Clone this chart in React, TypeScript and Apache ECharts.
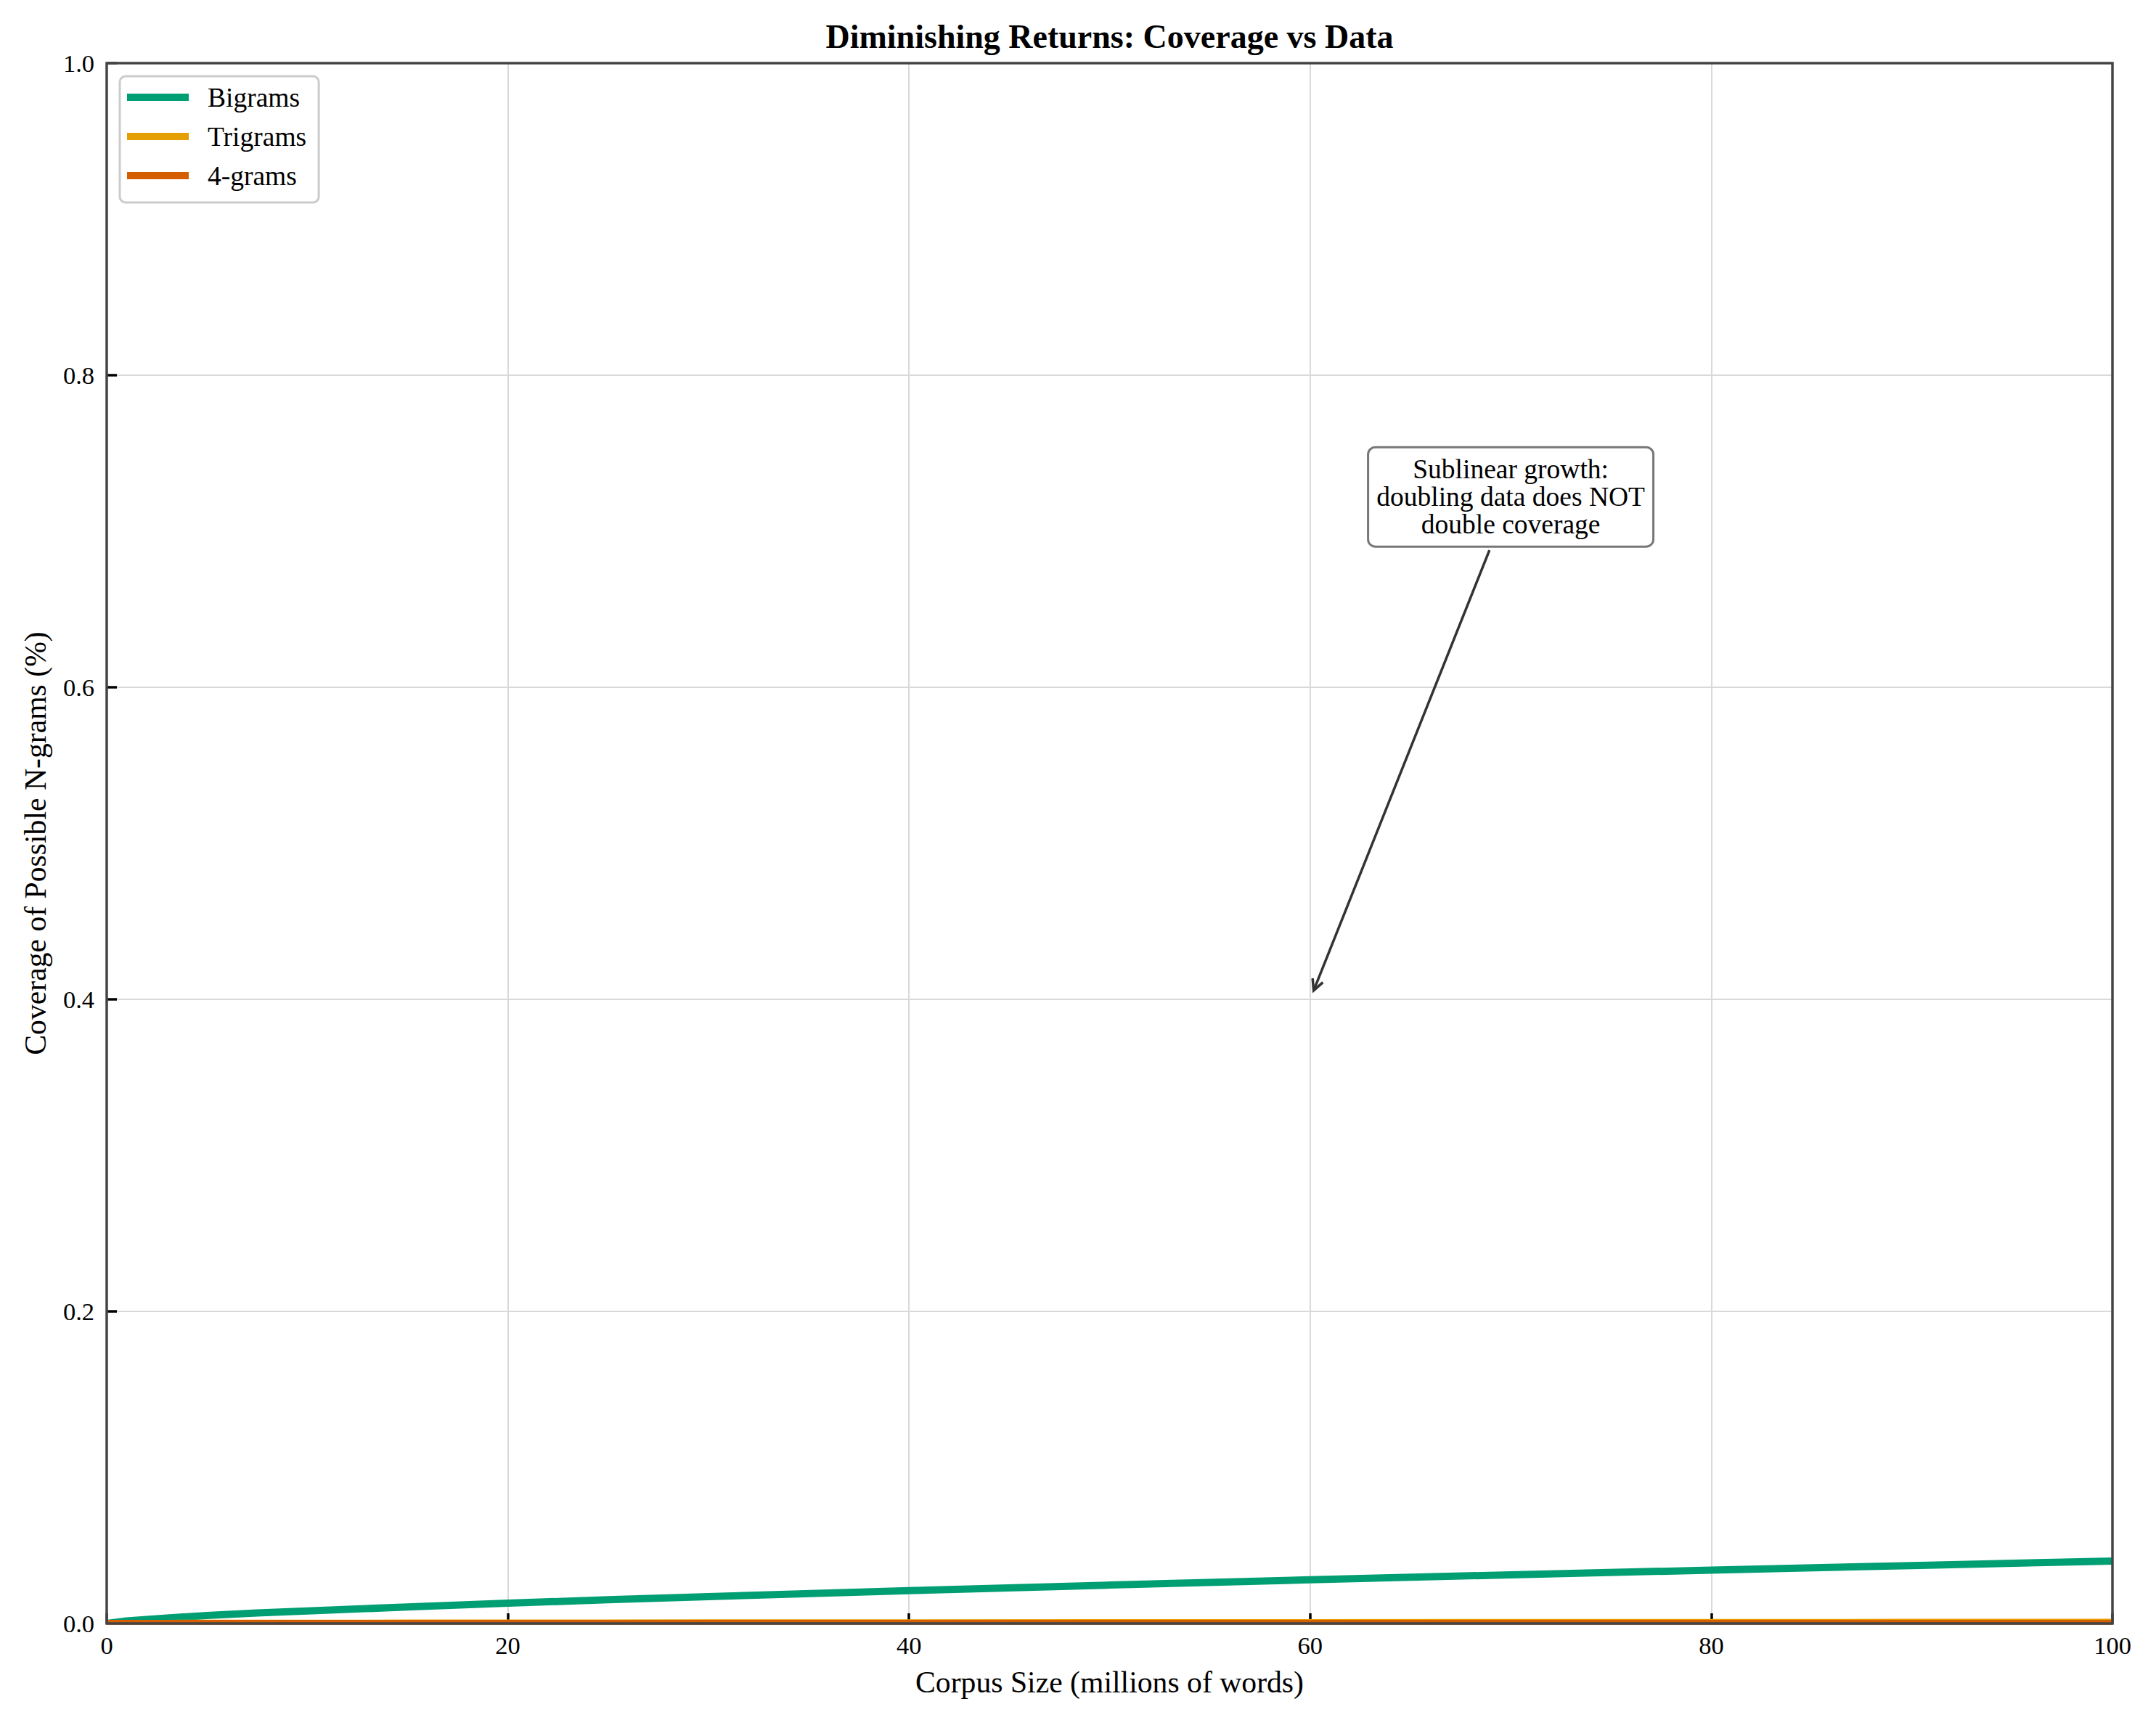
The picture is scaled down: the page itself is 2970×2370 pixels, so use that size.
import { useRef, useEffect } from "react";
import * as echarts from "echarts";

// corpus size in millions of words
const corpusSize = [0, 1, 2, 3, 5, 7.5, 10, 15, 20, 25, 30, 40, 50, 60, 70, 80, 90, 100];
const bigramCoverage = [
  0, 0.0016, 0.0026, 0.0035, 0.0051, 0.0067, 0.008, 0.0106, 0.013, 0.0152,
  0.0172, 0.021, 0.0246, 0.028, 0.0312, 0.0342, 0.0371, 0.04,
];
const trigramCoverage = [
  0, 0.00002, 0.00004, 0.00005, 0.00008, 0.0001, 0.00013, 0.00018, 0.00022,
  0.00026, 0.0003, 0.00037, 0.00043, 0.0005, 0.00055, 0.0006, 0.00065, 0.0007,
];
const fourgramCoverage = [
  0, 0, 0, 0, 0, 0, 0.000001, 0.000001, 0.000002, 0.000002, 0.000003,
  0.000004, 0.000005, 0.000006, 0.000007, 0.000008, 0.000009, 0.00001,
];

const seriesNames = ["Bigrams", "Trigrams", "4-grams"];
const seriesColors = ["#009E73", "#E69F00", "#D55E00"];
const seriesValues = [bigramCoverage, trigramCoverage, fourgramCoverage];

const xTicks = [0, 20, 40, 60, 80, 100];
const yTicks = [0, 0.2, 0.4, 0.6, 0.8, 1.0];

const annotationLines = [
  "Sublinear growth:",
  "doubling data does NOT",
  "double coverage",
];
const annotationPoint = [60, 0.4];
const annotationTextAt = [70, 0.722];

const FONT = '"Liberation Serif", "Times New Roman", Times, serif';

const App = () => {
  const chartRef = useRef<HTMLDivElement>(null);

  useEffect(() => {
    document.body.style.margin = "0";
    if (!chartRef.current) return;
    const chart = echarts.init(chartRef.current, undefined, { renderer: "svg" });

    const option: any = {
      animation: false,
      backgroundColor: "#fff",
      title: {
        text: "Diminishing Returns: Coverage vs Data",
        left: 147 + 2763 / 2,
        top: 27,
        padding: 0,
        textAlign: "center",
        textStyle: {
          fontFamily: FONT,
          fontWeight: "bold",
          fontSize: 46,
          color: "#000",
        },
      },
      grid: { left: 147, right: 60, top: 87, bottom: 133 },
      legend: {
        orient: "vertical",
        left: 165,
        top: 105,
        icon: "rect",
        itemWidth: 85,
        itemHeight: 10,
        itemGap: 16,
        padding: [10, 17, 18, 10],
        backgroundColor: "#fff",
        borderColor: "#cccccc",
        borderWidth: 3,
        borderRadius: 8,
        textStyle: {
          fontFamily: FONT,
          fontSize: 37.5,
          color: "#000",
          padding: [0, 0, 0, 21],
        },
        data: seriesNames,
      },
      xAxis: {
        type: "value",
        min: xTicks[0],
        max: xTicks[xTicks.length - 1],
        interval: xTicks[1] - xTicks[0],
        name: "Corpus Size (millions of words)",
        nameLocation: "middle",
        nameGap: 60,
        nameTextStyle: { fontFamily: FONT, fontSize: 41.7, color: "#000" },
        axisLine: { show: false },
        axisTick: {
          show: true,
          inside: true,
          length: 14,
          lineStyle: { color: "#000", width: 3.5 },
        },
        axisLabel: {
          margin: 12,
          fontFamily: FONT,
          fontSize: 34.5,
          color: "#000",
        },
        splitLine: { show: true, lineStyle: { color: "#d9d9d9", width: 2 } },
      },
      yAxis: {
        type: "value",
        min: yTicks[0],
        max: yTicks[yTicks.length - 1],
        interval: 0.2,
        name: "Coverage of Possible N-grams (%)",
        nameLocation: "middle",
        nameGap: 77,
        nameTextStyle: { fontFamily: FONT, fontSize: 41.7, color: "#000" },
        axisLine: { show: false },
        axisTick: {
          show: true,
          inside: true,
          length: 14,
          lineStyle: { color: "#000", width: 3.5 },
        },
        axisLabel: {
          margin: 17,
          fontFamily: FONT,
          fontSize: 34.5,
          color: "#000",
          formatter: (v: number) => v.toFixed(1),
        },
        splitLine: { show: true, lineStyle: { color: "#d9d9d9", width: 2 } },
      },
      series: seriesNames.map((name, i) => ({
        name,
        type: "line",
        showSymbol: false,
        symbol: "none",
        color: seriesColors[i],
        lineStyle: { color: seriesColors[i], width: 10 },
        data: corpusSize.map((x, j) => [x, seriesValues[i][j]]),
        z: 2 + i,
      })),
    };
    chart.setOption(option);

    // frame, annotation box and arrow, placed through the axes
    const px = (p: number[]) =>
      chart.convertToPixel({ gridIndex: 0 }, p) as unknown as number[];
    const [x0, y0] = px([xTicks[0], yTicks[0]]);
    const [x1, y1] = px([xTicks[xTicks.length - 1], yTicks[yTicks.length - 1]]);
    const [cx, cy] = px(annotationTextAt);
    const [tx, ty] = px(annotationPoint);

    const boxW = 393;
    const boxH = 137;
    const dx = tx - cx;
    const dy = ty - cy;
    const len = Math.hypot(dx, dy);
    const ux = dx / len;
    const uy = dy / len;
    const startT = (boxH / 2 + 5) / uy;
    const sx = cx + ux * startT;
    const sy = cy + uy * startT;
    const ex = tx - ux * 13;
    const ey = ty - uy * 13;
    const headLen = 17;
    const ang = (26.6 * Math.PI) / 180;
    const arm = (a: number) => {
      const bx = -ux;
      const by = -uy;
      return [
        ex + headLen * (bx * Math.cos(a) - by * Math.sin(a)),
        ey + headLen * (bx * Math.sin(a) + by * Math.cos(a)),
      ];
    };

    chart.setOption({
      graphic: [
        {
          // hides the half of the lines that runs past the frame
          type: "rect",
          z: 20,
          silent: true,
          shape: { x: x0 - 4, y: y1 - 4, width: x1 - x0 + 8, height: y0 - y1 + 8 },
          style: { fill: "none", stroke: "#fff", lineWidth: 4.5 },
        },
        {
          type: "rect",
          z: 21,
          silent: true,
          shape: { x: x0, y: y1, width: x1 - x0, height: y0 - y1 },
          style: { fill: "none", stroke: "#444", lineWidth: 3.5 },
        },
        {
          type: "line",
          z: 22,
          silent: true,
          shape: { x1: sx, y1: sy, x2: ex, y2: ey },
          style: { stroke: "#333", lineWidth: 3.5 },
        },
        {
          type: "polyline",
          z: 22,
          silent: true,
          shape: { points: [arm(ang), [ex, ey], arm(-ang)] },
          style: { stroke: "#333", lineWidth: 3.5, fill: "none" },
        },
        {
          type: "rect",
          z: 23,
          silent: true,
          shape: { x: cx - boxW / 2, y: cy - boxH / 2, width: boxW, height: boxH, r: 10 },
          style: { fill: "#fff", stroke: "#777", lineWidth: 3 },
        },
        {
          type: "text",
          z: 24,
          silent: true,
          x: cx,
          y: cy,
          style: {
            text: annotationLines.join("\n"),
            font: `37.5px ${FONT}`,
            fill: "#000",
            align: "center",
            verticalAlign: "middle",
            textAlign: "center",
            textVerticalAlign: "middle",
            lineHeight: 38,
          },
        },
      ],
    });

    return () => {
      chart.dispose();
    };
  }, []);

  return <div ref={chartRef} style={{ width: 2970, height: 2370 }}></div>;
};

export default App;
